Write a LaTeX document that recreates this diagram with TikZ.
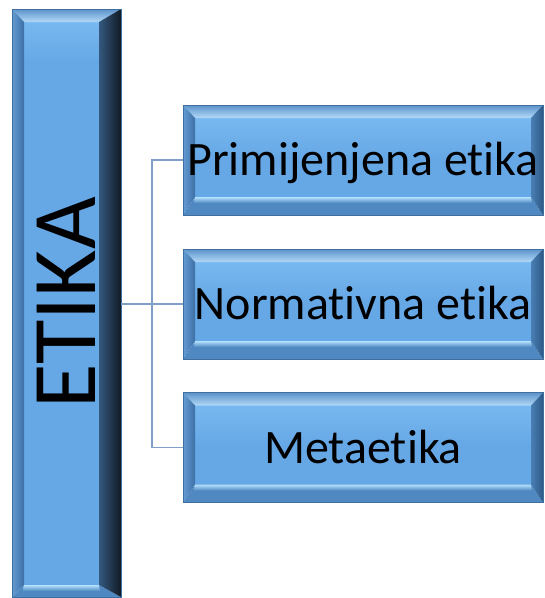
\documentclass[tikz,border=0pt]{standalone}
\usepackage{fontspec}
\setmainfont[RawFeature={-liga;-dlig;-clig}]{Carlito}
\usetikzlibrary{calc}
\definecolor{inA}{HTML}{78B8F0}
\definecolor{inB}{HTML}{66A8E6}
\definecolor{topA}{HTML}{5C92C9}
\definecolor{topB}{HTML}{B2D9F8}
\definecolor{lfA}{HTML}{639CD3}
\definecolor{lfB}{HTML}{3C6FA5}
\definecolor{btL}{HTML}{B4E2FF}
\definecolor{btB}{HTML}{5089C2}
\definecolor{rtA}{HTML}{4A7FB5}
\definecolor{rtB}{HTML}{2E5986}
\definecolor{rdA}{HTML}{34597F}
\definecolor{rdB}{HTML}{111A24}
\definecolor{edge}{HTML}{3F6F9F}
\definecolor{conn}{HTML}{7F9FC8}
% #1 top, #2 right, #3 bottom, #4 left, #5 right inner colour, #6 right outer colour
\newcommand\bvpic[6]{%
  \fill[inB]
    ([xshift=#4,yshift=#3]path picture bounding box.south west) rectangle
    ([xshift=-#2,yshift=-#1]path picture bounding box.north east);
  \shade[top color=inA, bottom color=inB]
    ([xshift=#4,yshift=-#1]path picture bounding box.north west) rectangle
    ([xshift=-#2,yshift=-#1-40pt]path picture bounding box.north east);
  \shade[top color=topA, bottom color=topB]
    (path picture bounding box.north west) -- (path picture bounding box.north east)
    -- ([xshift=-#2,yshift=-#1]path picture bounding box.north east)
    -- ([xshift=#4,yshift=-#1]path picture bounding box.north west) -- cycle;
  \shade[left color=lfA, right color=lfB]
    (path picture bounding box.south west) -- (path picture bounding box.north west)
    -- ([xshift=#4,yshift=-#1]path picture bounding box.north west)
    -- ([xshift=#4,yshift=#3]path picture bounding box.south west) -- cycle;
  \fill[btB]
    (path picture bounding box.south east) -- (path picture bounding box.south west)
    -- ([xshift=#4,yshift=#3]path picture bounding box.south west)
    -- ([xshift=-#2,yshift=#3]path picture bounding box.south east) -- cycle;
  \shade[top color=btL, bottom color=btB]
    ([xshift=#4,yshift=#3]path picture bounding box.south west)
    -- ([xshift=-#2,yshift=#3]path picture bounding box.south east)
    -- ([xshift=-#2+1pt,yshift=#3-6pt]path picture bounding box.south east)
    -- ([xshift=#4-1pt,yshift=#3-6pt]path picture bounding box.south west) -- cycle;
  \shade[left color=#5, right color=#6]
    (path picture bounding box.north east) -- (path picture bounding box.south east)
    -- ([xshift=-#2,yshift=#3]path picture bounding box.south east)
    -- ([xshift=-#2,yshift=-#1]path picture bounding box.north east) -- cycle;
}
\tikzset{
  sidebox/.style={rectangle, inner sep=0pt, draw=edge, line width=0.5pt,
    minimum width=360pt, minimum height=110pt,
    font=\fontsize{48}{48}\selectfont, text height=31pt, text depth=0pt,
    path picture={\bvpic{13pt}{12pt}{18pt}{12pt}{rtA}{rtB}}},
  mainbox/.style={rectangle, inner sep=0pt, draw=edge, line width=0.5pt,
    minimum width=109pt, minimum height=588pt,
    font=\fontsize{91}{91}\selectfont,
    path picture={\bvpic{13pt}{22pt}{12pt}{12pt}{rdA}{rdB}}},
  link/.style={draw=conn, line width=1.2pt}
}
\begin{document}
\begin{tikzpicture}[x=1pt,y=-1pt]
\useasboundingbox (0,0) rectangle (545,598);
\node[mainbox] (etika) at (66.5,303) {\rotatebox{90}{ETIKA}};
\node[sidebox] (p) at (363,160) {Primijenjena etika};
\node[sidebox] (n) at (363,304) {Normativna etika};
\node[sidebox] (m) at (363,447.5) {Metaetika};
\coordinate (bx) at (152,0);
\draw[link] (n.west) -- (n.west -| etika.east);
\draw[link] (p.west) -- (p.west -| bx) -- (m.west -| bx) -- (m.west);
\end{tikzpicture}
\end{document}
